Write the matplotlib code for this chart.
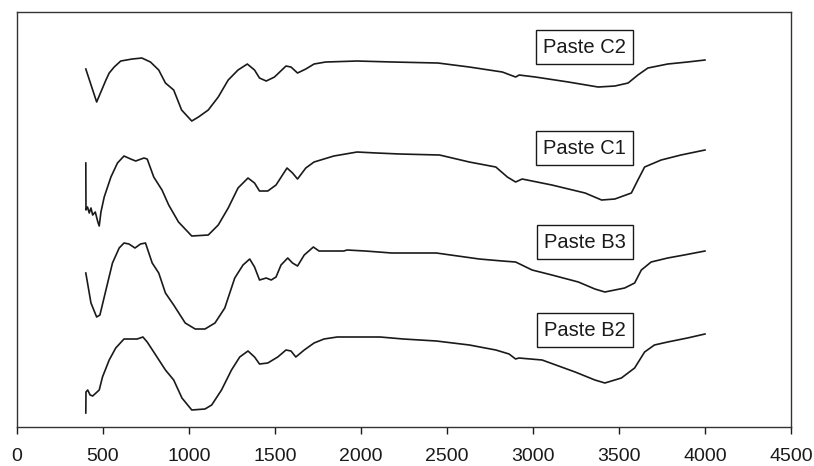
import matplotlib
matplotlib.use("Agg")
import matplotlib.pyplot as plt

plt.rcParams['font.family'] = ['Liberation Sans', 'DejaVu Sans']

# wavenumber (cm-1) and relative transmittance (arbitrary units, offset per paste)
wn_c2 = [400, 463, 517, 536, 565, 603, 669, 726, 776, 824, 863, 911, 957, 1016, 1055, 1112,
         1170, 1228, 1285, 1339, 1381, 1410, 1449, 1497, 1564, 1593, 1631, 1679, 1727, 1794,
         1977, 2188, 2448, 2630, 2822, 2899, 2920, 3014, 3206, 3379, 3476, 3553, 3610,
         3668, 3783, 3898, 4000]
tr_c2 = [358, 325, 347, 354, 360, 366, 368, 369, 365, 357, 344, 337, 317, 306, 310, 317,
         330, 347, 357, 363, 357, 349, 346, 350, 361, 360, 354, 358, 363, 365,
         366, 365, 364, 360, 355, 350, 352, 350, 345, 340, 341, 344, 352,
         359, 363, 365, 367]

wn_c1 = [400, 401, 410, 420, 430, 440, 455, 470, 478, 488, 507, 546, 584, 622, 661, 690,
         738, 757, 795, 843, 882, 939, 1016, 1112, 1170, 1228, 1285, 1343, 1381, 1410,
         1458, 1506, 1570, 1602, 1631, 1679, 1727, 1842, 1977, 2092, 2227, 2457, 2630,
         2784, 2851, 2899, 2937, 3110, 3303, 3399, 3476, 3572, 3610, 3649, 3745, 3860, 4000]
tr_c1 = [264, 217, 220, 214, 219, 212, 215, 205, 201, 215, 230, 250, 264, 271, 268, 266,
         269, 268, 250, 237, 222, 205, 191, 192, 202, 219, 239, 249, 244, 236,
         236, 242, 259, 254, 248, 259, 265, 271, 275, 274, 273, 272, 265,
         260, 250, 245, 248, 242, 234, 227, 228, 234, 247, 260, 267, 272, 277]

wn_b3 = [400, 430, 463, 482, 517, 555, 594, 622, 651, 686, 718, 747, 786, 824, 863, 911,
         978, 1036, 1093, 1151, 1208, 1266, 1314, 1353, 1381, 1410, 1449, 1478, 1506, 1535,
         1574, 1602, 1631, 1670, 1723, 1756, 1900, 1919, 2025, 2179, 2438, 2688, 2822,
         2899, 2995, 3110, 3264, 3360, 3418, 3533, 3591, 3630, 3687, 3783, 3879, 4000]
tr_b3 = [154, 124, 110, 112, 137, 164, 179, 184, 183, 179, 183, 184, 164, 154, 134, 122,
         104, 98, 98, 104, 119, 149, 162, 168, 160, 147, 149, 147, 150, 162,
         169, 164, 161, 172, 180, 176, 176, 177, 176, 174, 174, 168, 166,
         165, 157, 152, 145, 138, 135, 139, 144, 157, 165, 169, 172, 176]

wn_b2 = [400, 401, 411, 425, 440, 459, 478, 497, 536, 574, 622, 699, 732, 757, 795, 863,
         911, 959, 1016, 1093, 1132, 1189, 1247, 1295, 1343, 1381, 1410, 1458, 1516, 1564,
         1593, 1621, 1670, 1727, 1785, 1862, 2111, 2246, 2438, 2630, 2784, 2861, 2899,
         2918, 3053, 3245, 3360, 3418, 3514, 3591, 3649, 3706, 3783, 3898, 4000]
tr_b2 = [14, 35, 37, 32, 31, 34, 37, 50, 67, 79, 88, 88, 90, 85, 75, 57,
         47, 29, 17, 18, 22, 37, 57, 70, 76, 70, 63, 64, 70, 77,
         76, 70, 77, 84, 88, 90, 90, 88, 86, 82, 77, 73, 68,
         69, 67, 55, 47, 44, 49, 59, 75, 82, 85, 89, 93]

series = [(wn_c2, tr_c2), (wn_c1, tr_c1), (wn_b3, tr_b3), (wn_b2, tr_b2)]
labels = ['Paste C2', 'Paste C1', 'Paste B3', 'Paste B2']
label_y = [380, 279, 185, 97]

fig = plt.figure(figsize=(8.14, 4.66), dpi=100)
ax = fig.add_axes([0.0209, 0.0837, 0.9508, 0.8905])

for wn, tr in series:
    ax.plot(wn, tr, color='#1a1a1a', lw=1.2)

# label boxes
for lab, ly in zip(labels, label_y):
    ax.text(3300, ly, lab, fontsize=14.5, ha='center', va='center', color='#1a1a1a',
            bbox=dict(boxstyle='square,pad=0.35', fc='white', ec='#1a1a1a', lw=1))

ax.set_xlim(0, 4500)
ax.set_ylim(0, 415)
ax.set_xticks(range(0, 4501, 500))
ax.set_yticks([])
ax.tick_params(axis='x', direction='out', length=5, width=1, pad=10,
               labelsize=14, colors='#1a1a1a')
for sp in ax.spines.values():
    sp.set_color('#333333')
    sp.set_linewidth(1)

fig.savefig('out.png', dpi=100)
